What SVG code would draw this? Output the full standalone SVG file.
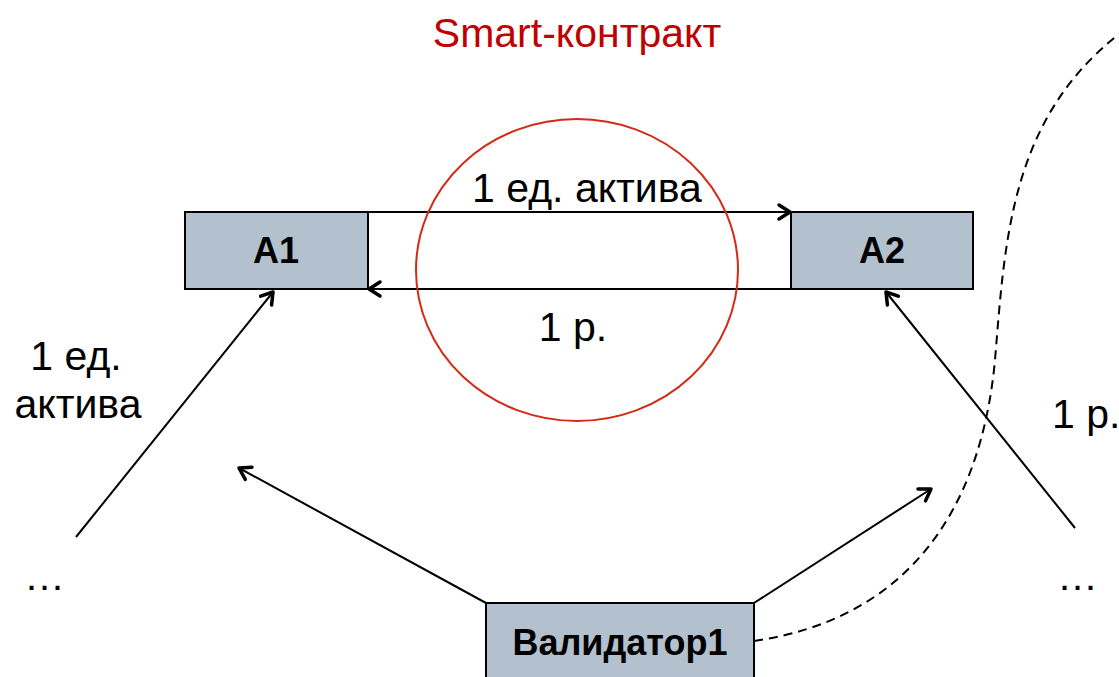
<svg xmlns="http://www.w3.org/2000/svg" width="1119" height="677" viewBox="0 0 1119 677">
<defs>
<marker id="arr" markerUnits="userSpaceOnUse" markerWidth="30" markerHeight="30" refX="15" refY="15" orient="auto">
<path d="M4,8 L15,15 L4,22" fill="none" stroke="#000" stroke-width="3.5" stroke-linecap="round" stroke-linejoin="round"/>
</marker>
<style>
.box{fill:#B3C1CE;stroke:#000;stroke-width:2}
.lbl{font-family:"Liberation Sans",Arial,sans-serif;font-size:41px;fill:#000}
.bold{font-weight:bold;font-size:36px}
.ln{stroke:#000;stroke-width:2;fill:none}
</style>
</defs>
<rect width="1119" height="677" fill="#fff"/>
<g id="connectors">
<line class="ln" x1="368" y1="212" x2="790" y2="212" marker-end="url(#arr)"/>
<line class="ln" x1="791" y1="289" x2="369" y2="289" marker-end="url(#arr)"/>
<line class="ln" x1="76" y1="537" x2="273" y2="292" marker-end="url(#arr)"/>
<line class="ln" x1="1075" y1="528" x2="886" y2="292" marker-end="url(#arr)"/>
<line class="ln" x1="486" y1="603" x2="239" y2="468" marker-end="url(#arr)"/>
<line class="ln" x1="754" y1="603" x2="931" y2="489" marker-end="url(#arr)"/>
<path class="ln" d="M754,641 C900,620 980,520 995,360 C1005,240 1010,120 1119,34" stroke-dasharray="9,6"/>
</g>
<g id="contract">
<ellipse cx="577" cy="270" rx="161" ry="151" fill="none" stroke="#D22A14" stroke-width="2"/>
<text x="577" y="47" text-anchor="middle" class="lbl" style="fill:#C00000">Smart-контракт</text>
</g>
<g id="A1">
<rect class="box" x="185" y="212" width="183" height="77"/>
<text x="276" y="263" text-anchor="middle" class="lbl bold">A1</text>
</g>
<g id="A2">
<rect class="box" x="791" y="212" width="182" height="77"/>
<text x="882" y="263" text-anchor="middle" class="lbl bold">A2</text>
</g>
<g id="validator">
<rect class="box" x="486" y="603" width="268" height="80"/>
<text x="620" y="655" text-anchor="middle" class="lbl bold">Валидатор1</text>
</g>
<g id="labels">
<text x="587" y="202" text-anchor="middle" class="lbl">1 ед. актива</text>
<text x="573" y="341" text-anchor="middle" class="lbl">1 р.</text>
<text x="76" y="370" text-anchor="middle" class="lbl">1 ед.</text>
<text x="78" y="418" text-anchor="middle" class="lbl">актива</text>
<text x="1052" y="428" class="lbl">1 р.</text>
<text x="24" y="590" class="lbl">…</text>
<text x="1057" y="590" class="lbl">…</text>
</g>
</svg>
